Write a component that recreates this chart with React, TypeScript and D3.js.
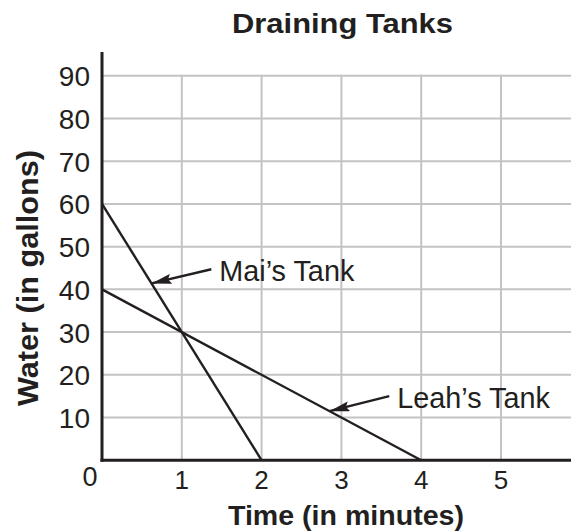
import React from "react";
import * as d3 from "d3";

const title = "Draining Tanks";
const xLabel = "Time (in minutes)";
const yLabel = "Water (in gallons)";
const xTicks = [1, 2, 3, 4, 5];
const yTicks = [10, 20, 30, 40, 50, 60, 70, 80, 90];
const maiTime = [0, 2];
const maiWater = [60, 0];
const leahTime = [0, 4];
const leahWater = [40, 0];
const annotations = [
  { label: "Mai’s Tank", tipX: 0.62, tipY: 41.4, tailX: 1.37, tailY: 44.7 },
  { label: "Leah’s Tank", tipX: 2.85, tipY: 11.5, tailX: 3.6, tailY: 15.0 },
];

const W = 572;
const H = 531;
const INK = "#231f20";
const GRID = "#c3c3c6";
const FONT = "'Liberation Sans', Arial, Helvetica, sans-serif";

export default function App() {
  const x = d3.scaleLinear().domain([0, 5]).range([102, 501]);
  const y = d3.scaleLinear().domain([0, 90]).range([460.3, 75.7]);
  const xMax = x.invert(571);
  const yTop = y.invert(52);
  const line = d3
    .line<[number, number]>()
    .x((d) => x(d[0]))
    .y((d) => y(d[1]));
  const mai = maiTime.map((t, i) => [t, maiWater[i]] as [number, number]);
  const leah = leahTime.map((t, i) => [t, leahWater[i]] as [number, number]);

  return (
    <svg
      width={W}
      height={H}
      style={{ position: "absolute", left: 0, top: 0, background: "#fff" }}
      fontFamily={FONT}
    >
      <defs>
        <marker
          id="arrow"
          viewBox="0 0 20 10"
          refX={20}
          refY={5}
          markerWidth={20}
          markerHeight={10}
          markerUnits="userSpaceOnUse"
          orient="auto"
        >
          <path d="M0,0 L20,5 L0,10 L3,5 Z" fill={INK} />
        </marker>
      </defs>
      {/* grid */}
      {yTicks.map((v) => (
        <line key={"h" + v} x1={x(0)} x2={x(xMax)} y1={y(v)} y2={y(v)} stroke={GRID} strokeWidth={2} />
      ))}
      {xTicks.map((v) => (
        <line key={"v" + v} x1={x(v)} x2={x(v)} y1={y(90) - 1} y2={y(0)} stroke={GRID} strokeWidth={2} />
      ))}
      {/* data lines */}
      <path d={line(mai) || ""} fill="none" stroke={INK} strokeWidth={2.4} />
      <path d={line(leah) || ""} fill="none" stroke={INK} strokeWidth={2.4} />
      {/* axes */}
      <line x1={x(0)} x2={x(0)} y1={y(yTop)} y2={y(0) + 1.5} stroke={INK} strokeWidth={3} />
      <line x1={x(0) - 1.5} x2={x(xMax)} y1={y(0)} y2={y(0)} stroke={INK} strokeWidth={3} />
      {/* tick labels */}
      {yTicks.map((v) => (
        <text key={"yt" + v} x={90} y={y(v) + 10.5} textAnchor="end" fontSize={28} fill={INK}>
          {v}
        </text>
      ))}
      <text x={90} y={486} textAnchor="middle" fontSize={27} fill={INK}>
        0
      </text>
      {xTicks.map((v) => (
        <text key={"xt" + v} x={x(v)} y={489} textAnchor="middle" fontSize={26} fill={INK}>
          {v}
        </text>
      ))}
      {/* annotations */}
      {annotations.map((a) => (
        <g key={a.label}>
          <line
            x1={x(a.tailX)}
            y1={y(a.tailY)}
            x2={x(a.tipX)}
            y2={y(a.tipY)}
            stroke={INK}
            strokeWidth={2.4}
            markerEnd="url(#arrow)"
          />
          <text x={x(a.tailX) + 8} y={y(a.tailY) + 12} fontSize={28.8} fill={INK}>
            {a.label}
          </text>
        </g>
      ))}
      {/* title & axis labels */}
      <text
        x={342.5}
        y={33}
        textAnchor="middle"
        fontSize={28.5}
        fontWeight="bold"
        fill={INK}
        textLength={221}
        lengthAdjust="spacingAndGlyphs"
      >
        {title}
      </text>
      <text
        x={346}
        y={525}
        textAnchor="middle"
        fontSize={27}
        fontWeight="bold"
        fill={INK}
        textLength={236}
        lengthAdjust="spacingAndGlyphs"
      >
        {xLabel}
      </text>
      <text
        transform="translate(38,278) rotate(-90)"
        textAnchor="middle"
        fontSize={30}
        fontWeight="bold"
        fill={INK}
        textLength={256}
        lengthAdjust="spacingAndGlyphs"
      >
        {yLabel}
      </text>
    </svg>
  );
}
